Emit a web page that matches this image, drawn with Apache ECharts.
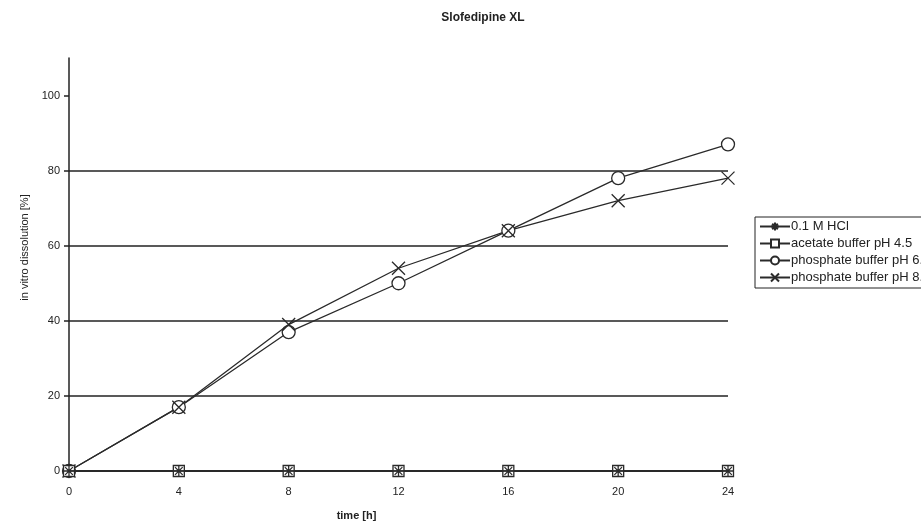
<!DOCTYPE html>
<html lang="en">
<head>
  <meta charset="UTF-8">
  <title>Slofedipine XL</title>
  <style>
    html, body { margin: 0; padding: 0; background: #fff; }
    #main { width: 921px; height: 523px; }
  </style>
</head>
<body>
<div id="main"></div>
<script src="https://cdn.jsdelivr.net/npm/echarts@6/dist/echarts.min.js"></script>
<script>
  // time points [h]
  var timePoints = [0, 4, 8, 12, 16, 20, 24];
  var yTicks = [0, 20, 40, 60, 80, 100];

  var seriesNames = ['0.1 M HCl', 'acetate buffer pH 4.5', 'phosphate buffer pH 6.8', 'phosphate buffer pH 8.0'];
  var hclValues = [0, 0, 0, 0, 0, 0, 0];
  var acetateValues = [0, 0, 0, 0, 0, 0, 0];
  var phos68Values = [0, 17, 37, 50, 64, 78, 87];
  var phos80Values = [0, 17, 39, 54, 64, 72, 78];

  // marker shapes
  var starPath = 'path://M5,0L5,10M0,5L10,5M1.5,1.5L8.5,8.5M8.5,1.5L1.5,8.5';
  var crossPath = 'path://M0,0L10,10M10,0L0,10';

  function pairs(vals) {
    return timePoints.map(function (t, i) { return [t, vals[i]]; });
  }

  function makeSeries(name, vals, symbol, size, z) {
    return {
      name: name,
      type: 'line',
      z: z,
      data: pairs(vals),
      symbol: symbol,
      symbolSize: size,
      showAllSymbol: true,
      lineStyle: { color: '#2a2a2a', width: 1.3 },
      itemStyle: { color: '#fff', borderColor: '#2a2a2a', borderWidth: 1.3 },
      emphasis: { disabled: true }
    };
  }

  var chart = echarts.init(document.getElementById('main'));
  var textFont = 'Liberation Sans';

  chart.setOption({
    animation: false,
    backgroundColor: '#fff',
    title: {
      text: 'Slofedipine XL',
      left: 478,
      top: 7,
      textAlign: 'center',
      textStyle: { fontFamily: textFont, fontSize: 12, fontWeight: 'bold', color: '#222' }
    },
    legend: {
      orient: 'vertical',
      left: 755,
      top: 217,
      itemWidth: 30,
      itemHeight: 10,
      itemGap: 4,
      padding: [3, 8, 4, 4],
      borderColor: '#222',
      borderWidth: 1,
      data: seriesNames,
      textStyle: { fontFamily: textFont, fontSize: 13, lineHeight: 13, color: '#222', padding: [0, 0, 0, -4] }
    },
    grid: { left: 69, right: 193, top: 58, bottom: 52, containLabel: false, outerBoundsMode: 'none' },
    xAxis: {
      type: 'value',
      min: 0,
      max: 24,
      interval: 4,
      name: 'time [h]',
      nameLocation: 'middle',
      nameGap: 39,
      nameTextStyle: { fontFamily: textFont, fontSize: 11, fontWeight: 'bold', color: '#222', padding: [0, 84, 0, 0] },
      axisLine: { lineStyle: { color: '#222', width: 1.5 } },
      axisTick: { show: false },
      axisLabel: { fontFamily: textFont, fontSize: 11, color: '#222', margin: 15 },
      splitLine: { show: false }
    },
    yAxis: {
      type: 'value',
      min: 0,
      max: 110,
      interval: 20,
      name: 'in vitro dissolution [%]',
      nameLocation: 'middle',
      nameGap: 31,
      nameTextStyle: { fontFamily: textFont, fontSize: 11, color: '#222', padding: [0, 0, 0, 34] },
      axisLine: { show: true, lineStyle: { color: '#222', width: 1.5 } },
      axisTick: { show: true, length: 5, customValues: yTicks, lineStyle: { color: '#222', width: 1.5 } },
      axisLabel: { fontFamily: textFont, fontSize: 11, color: '#222', margin: 9, customValues: yTicks },
      splitLine: { show: true, showMaxLine: false, lineStyle: { color: '#222', width: 1.5 } }
    },
    series: [
      makeSeries(seriesNames[0], hclValues, starPath, 11, 4),
      makeSeries(seriesNames[1], acetateValues, 'rect', 11, 3),
      makeSeries(seriesNames[2], phos68Values, 'circle', 13, 2),
      makeSeries(seriesNames[3], phos80Values, crossPath, 13, 2)
    ]
  });
</script>
</body>
</html>
